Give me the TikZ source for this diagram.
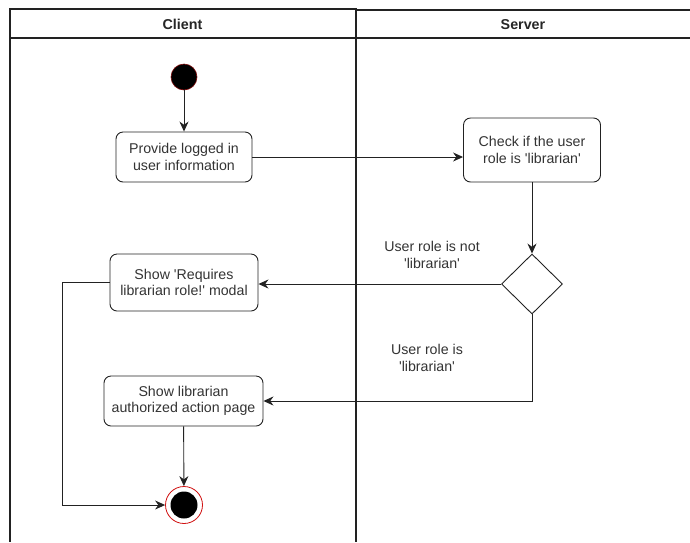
\documentclass[tikz,border=0pt]{standalone}
\usepackage{fontspec}
\setmainfont{Liberation Sans}
\usetikzlibrary{shapes.geometric,arrows.meta}
\definecolor{linec}{HTML}{222222}
\definecolor{endred}{HTML}{D01010}
\newcommand{\sq}{\textquotesingle}
\begin{document}
\begin{tikzpicture}[x=1pt,y=-1pt,
  font=\fontsize{14.2}{16.5}\selectfont,
  lane/.style={draw=linec,line width=1.1pt},
  head/.style={font=\fontsize{14.3}{17}\selectfont\bfseries,text=black!85},
  actbox/.style={draw=linec,line width=0.9pt,rounded corners=7pt,align=center,inner sep=0pt,text=black!80},
  cond/.style={draw=linec,line width=0.9pt,diamond,inner sep=0pt,minimum width=61pt,minimum height=60pt},
  flow/.style={draw=linec,line width=0.9pt,-{Stealth[length=10pt,width=9pt]}},
  plain/.style={draw=linec,line width=0.9pt},
  lbl/.style={align=center,text=black!80}]
\useasboundingbox (0,0) rectangle (690,542);
% swimlanes
\draw[lane] (10,38) -- (10,542);
\draw[lane] (10,38) -- (10,9) -- (356,9) -- (356,542);
\draw[lane] (10,38) -- (356,38);
\draw[lane] (356,10) -- (695,10);
\draw[lane] (356,38) -- (695,38);
\node[head] (hc) at (182.5,24) {Client};
\node[head] (hs) at (523,24.5) {Server};
% nodes
\node[circle,fill=black,draw=endred!60!black,line width=0.6pt,minimum size=26pt,inner sep=0pt] (start) at (184,77) {};
\node[actbox,minimum width=136pt,minimum height=50pt] (b1) at (184,157) {Provide logged in\\user information};
\node[actbox,minimum width=137pt,minimum height=64pt] (b2) at (532,150) {Check if the user\\role is \sq librarian\sq};
\node[cond] (dia) at (532,284) {};
\node[actbox,minimum width=148pt,minimum height=57pt] (b3) at (184,282.5) {Show \sq Requires\\librarian role!\sq\ modal};
\node[actbox,minimum width=159pt,minimum height=50pt] (b4) at (183.5,401) {Show librarian\\authorized action page};
\node[circle,draw=endred,line width=0.8pt,fill=white,minimum size=37pt,inner sep=0pt] (endc) at (184,505) {};
\node[circle,fill=black,minimum size=27pt,inner sep=0pt] (endin) at (184,505) {};
\node[lbl] (l1) at (432,255) {User role is not\\\sq librarian\sq};
\node[lbl] (l2) at (427,358) {User role is\\\sq librarian\sq};
\coordinate (lc) at (62,505);
% connectors
\draw[flow] (start) -- (b1);
\draw[flow] (b1.east) -- (b1.east -| b2.west);
\draw[flow] (b2) -- (dia);
\draw[flow] (dia.west) -- (dia.west -| b3.east);
\draw[flow] (dia.south) |- (b4.east);
\draw[flow] (b4) -- (endc);
\draw[plain] (b3.west) -- (b3.west -| lc) -- (lc);
\draw[flow] (lc) -- (endc.west);
\end{tikzpicture}
\end{document}
